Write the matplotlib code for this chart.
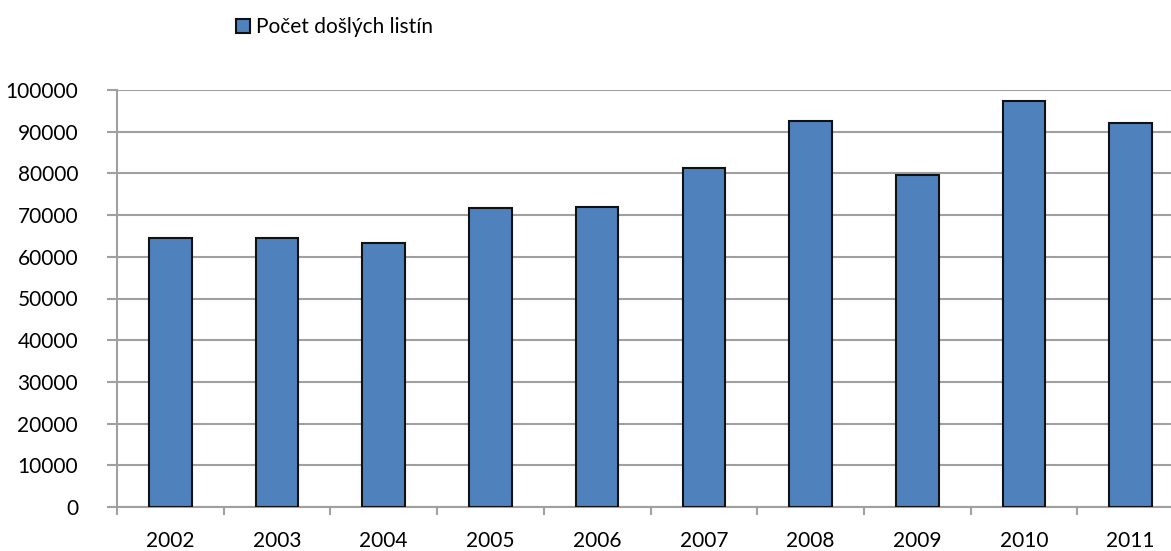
import numpy as np
import matplotlib.pyplot as plt
from matplotlib.ticker import FixedLocator

# data
years = ['2002', '2003', '2004', '2005', '2006', '2007', '2008', '2009', '2010', '2011']
counts = [64400, 64400, 63200, 71700, 72000, 81300, 92500, 79600, 97400, 92000]
y_ticks = [0, 10000, 20000, 30000, 40000, 50000, 60000, 70000, 80000, 90000, 100000]
series_name = 'Počet došlých listín'

plt.rcParams['font.family'] = ['Lato', 'DejaVu Sans']

W, H = 1171, 551
fig = plt.figure(figsize=(W / 100, H / 100), dpi=100)
# plot area runs past the right edge of the image, as in the reference
ax = fig.add_axes([117 / W, (H - 507) / H, (1184 - 117) / W, (507 - 90) / H])

x = np.arange(len(years))
bars = ax.bar(x, counts, width=0.4, color='#4F81BD', edgecolor='#111111',
              linewidth=1.5, zorder=3, label=series_name)

ax.set_xlim(-0.5, len(years) - 0.5)
ax.set_ylim(0, 100000)

# grid and spines
grid_col = '#A0A0A0'
ax.set_yticks(y_ticks)
ax.set_yticklabels([str(v) for v in y_ticks])
ax.yaxis.grid(True, color=grid_col, linewidth=1.5, zorder=0)
for side in ['top', 'right']:
    ax.spines[side].set_visible(False)
for side in ['left', 'bottom']:
    ax.spines[side].set_color(grid_col)
    ax.spines[side].set_linewidth(1.5)

# x: tick marks on category borders, labels at centres
ax.xaxis.set_major_locator(FixedLocator(np.arange(len(years) + 1) - 0.5))
ax.xaxis.set_major_formatter(plt.NullFormatter())
ax.xaxis.set_minor_locator(FixedLocator(x))
ax.set_xticklabels(years, minor=True)
ax.tick_params(axis='x', which='major', direction='out', length=6, width=1.5, color=grid_col)
ax.tick_params(axis='x', which='minor', length=0, pad=17, labelsize=15)
ax.tick_params(axis='y', direction='out', length=7, width=1.5, color=grid_col,
               pad=21, labelsize=15)

ax.legend(loc='center left', bbox_to_anchor=(236 / W, 1 - 27 / H),
          bbox_transform=fig.transFigure, frameon=False, fontsize=15,
          handlelength=0.65, handleheight=0.65, handletextpad=0.3,
          borderpad=0, borderaxespad=0)

fig.savefig('out.png', dpi=100)
